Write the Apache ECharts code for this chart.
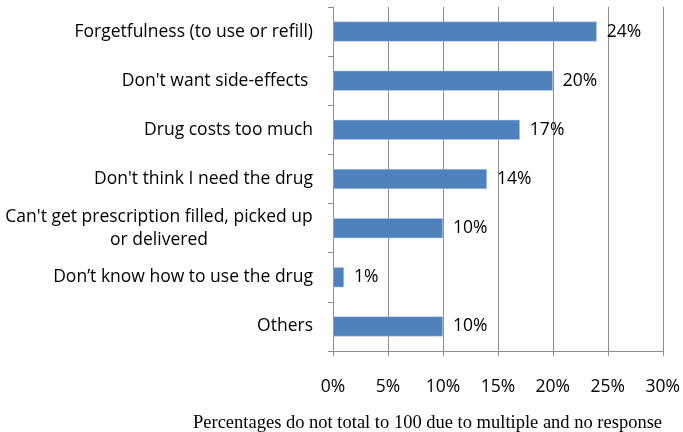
<!DOCTYPE html>
<html><head><meta charset="utf-8">
<script src="https://cdn.jsdelivr.net/npm/echarts@6/dist/echarts.min.js"></script>
<style>html,body{margin:0;padding:0;background:#fff}#c{width:683px;height:432px}</style>
</head><body><div id="c"></div>
<script>
const categories = [
  "Forgetfulness (to use or refill)",
  "Don't want side-effects ",
  "Drug costs too much",
  "Don't think I need the drug",
  "Can't get prescription filled, picked up\nor delivered",
  "Don\u2019t know how to use the drug",
  "Others"
];
const values = [24, 20, 17, 14, 10, 1, 10];
const xTicks = [0, 5, 10, 15, 20, 25, 30];
const footnote = "Percentages do not total to 100 due to multiple and no response";

const FONT = "Open Sans";
const FS = 17.5;
const cv = document.createElement('canvas').getContext('2d');
cv.font = FS + 'px "' + FONT + '"';
function lineW(s){ return Math.ceil(cv.measureText(s).width); }

const chart = echarts.init(document.getElementById('c'), null, {renderer: 'canvas'});
chart.setOption({
  animation: false,
  grid: {left: 333, right: 20, top: 7, bottom: 81, containLabel: false},
  xAxis: {
    type: 'value', min: xTicks[0], max: xTicks[xTicks.length-1], interval: 5,
    axisLine: {show: true, lineStyle: {color: '#8c8c8c', width: 1}},
    axisTick: {show: true, length: 5, lineStyle: {color: '#8c8c8c'}},
    splitLine: {show: true, lineStyle: {color: '#8c8c8c', width: 1}},
    axisLabel: {margin: 27, color: '#000', fontFamily: FONT, fontSize: FS, formatter: v => v + '%'}
  },
  yAxis: {
    type: 'category', inverse: true, data: categories,
    axisLine: {show: true, lineStyle: {color: '#8c8c8c', width: 1}},
    axisTick: {show: true, length: 5, lineStyle: {color: '#8c8c8c'}},
    splitLine: {show: false},
    axisLabel: {
      margin: 20, color: '#000', fontFamily: FONT, fontSize: FS, lineHeight: 23,
      formatter: function (v) {
        const lines = v.split('\n');
        if (lines.length === 1) return v;
        return lines.map(l => '{m|' + l + '}').join('\n');
      },
      rich: {m: {align: 'center', width: lineW("Can't get prescription filled, picked up"), fontFamily: FONT, fontSize: FS, color: '#000', lineHeight: 23}}
    }
  },
  series: [{
    type: 'bar', data: values, barWidth: 20,
    itemStyle: {color: '#4F81BD', borderColor: '#b9cde5', borderWidth: 0.5},
    label: {show: true, position: 'right', distance: 10, color: '#000', fontFamily: FONT, fontSize: FS, formatter: p => p.value + '%'}
  }],
  graphic: [{
    type: 'text', left: 193, top: 414,
    style: {text: footnote, font: '18.5px "Liberation Serif"', fill: '#000'}
  }]
});
</script></body></html>
